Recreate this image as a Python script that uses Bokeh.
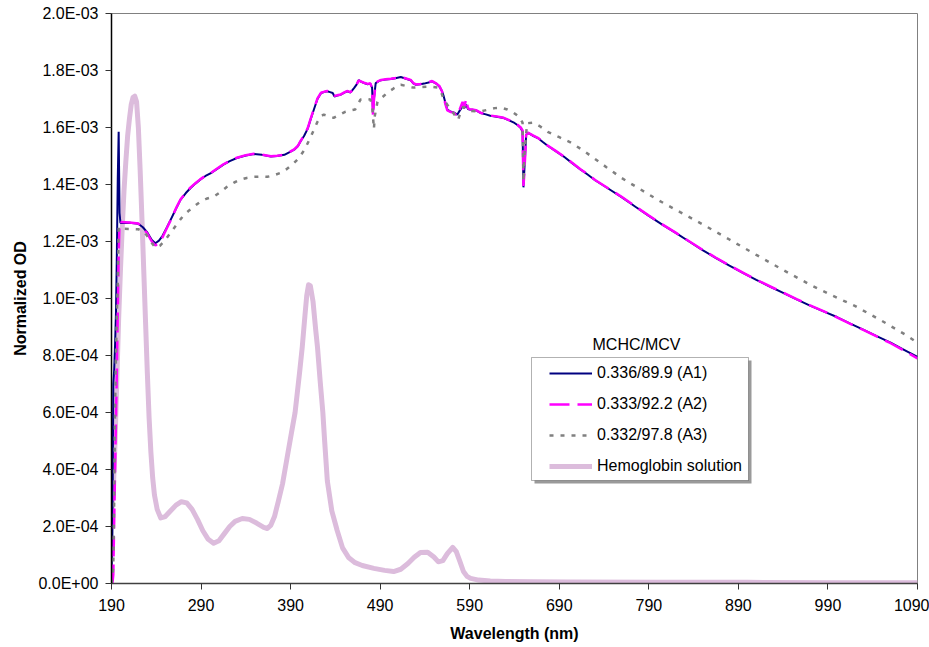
from bokeh.plotting import figure
from bokeh.models import (Range1d, FixedTicker, CustomJSTickFormatter, Legend,
                          LegendItem, Label, BoxAnnotation)
from bokeh.embed import file_html
from bokeh.resources import INLINE

# ---------------- data (OD values in units of 1e-3) ----------------
x_ticks = [190, 290, 390, 490, 590, 690, 790, 890, 990, 1090]
y_ticks = [0.0, 0.0002, 0.0004, 0.0006, 0.0008, 0.001, 0.0012, 0.0014, 0.0016, 0.0018, 0.002]

wl_a1 = [190, 191, 192, 193, 194, 195, 196, 197, 198, 199, 200, 210, 220, 225, 230, 235, 239, 243, 247,
         252, 256, 262, 267, 273, 278, 284, 289, 295, 301, 308, 315, 322, 330, 340, 349, 358, 368, 375,
         383, 390, 394, 398, 401, 405, 409, 412, 416, 420, 424, 428, 431, 434, 437, 439, 442, 446, 450,
         453, 457, 461, 464, 466, 469, 472, 476, 479, 481, 482, 483, 485, 488, 491, 496, 502, 507, 513,
         518, 524, 527, 530, 535, 539, 544, 548, 552, 556, 559, 561, 563, 565, 569, 572, 576, 579, 582,
         584, 586, 588, 590, 593, 597, 602, 608, 613, 620, 628, 634, 640, 644, 647, 649, 650, 651, 653,
         655, 660, 666, 672, 677, 686, 695, 704, 714, 722, 730, 745, 760, 775, 790, 805, 820, 835, 850,
         865, 880, 895, 910, 925, 940, 955, 970, 985, 1000, 1015, 1030, 1045, 1060, 1075, 1090]
od_a1 = [0.02, 0.18, 0.70, 0.75, 0.84, 0.95, 1.16, 1.42, 1.585, 1.30, 1.265, 1.266, 1.262, 1.250, 1.232,
         1.205, 1.194, 1.203, 1.220, 1.250, 1.276, 1.315, 1.346, 1.370, 1.387, 1.404, 1.417, 1.430, 1.440,
         1.455, 1.470, 1.482, 1.493, 1.502, 1.507, 1.504, 1.498, 1.500, 1.504, 1.515, 1.522, 1.534, 1.551,
         1.570, 1.595, 1.625, 1.663, 1.700, 1.721, 1.725, 1.727, 1.724, 1.721, 1.709, 1.712, 1.715, 1.722,
         1.727, 1.723, 1.739, 1.752, 1.766, 1.760, 1.756, 1.752, 1.754, 1.740, 1.651, 1.700, 1.756, 1.762,
         1.766, 1.768, 1.770, 1.773, 1.777, 1.772, 1.766, 1.755, 1.750, 1.752, 1.754, 1.758, 1.762, 1.755,
         1.745, 1.728, 1.709, 1.685, 1.663, 1.655, 1.653, 1.645, 1.660, 1.674, 1.668, 1.680, 1.665, 1.663,
         1.662, 1.660, 1.651, 1.646, 1.641, 1.638, 1.633, 1.625, 1.616, 1.607, 1.598, 1.585, 1.390, 1.450,
         1.575, 1.581, 1.572, 1.563, 1.548, 1.536, 1.517, 1.498, 1.476, 1.452, 1.434, 1.415, 1.385, 1.355,
         1.322, 1.290, 1.259, 1.230, 1.200, 1.170, 1.142, 1.115, 1.090, 1.065, 1.042, 1.020, 0.997, 0.975,
         0.955, 0.935, 0.912, 0.890, 0.867, 0.845, 0.820, 0.795]

wl_a2 = [190, 191, 192, 193, 194, 195, 196, 197, 198, 199, 200, 210, 220, 225, 230, 235, 239, 243, 247,
         252, 256, 262, 267, 273, 278, 284, 289, 295, 301, 308, 315, 322, 330, 340, 349, 358, 368, 375,
         383, 390, 394, 398, 401, 405, 409, 412, 416, 420, 424, 428, 431, 434, 437, 439, 442, 446, 450,
         453, 457, 461, 464, 466, 469, 472, 476, 479, 481, 482, 483, 485, 488, 491, 496, 502, 507, 513,
         518, 524, 527, 530, 535, 539, 544, 548, 552, 556, 559, 561, 563, 565, 569, 572, 576, 579, 582,
         584, 586, 588, 590, 593, 597, 602, 608, 613, 620, 628, 634, 640, 644, 647, 649, 650, 651, 653,
         655, 660, 666, 672, 677, 686, 695, 704, 714, 722, 730, 745, 760, 775, 790, 805, 820, 835, 850,
         865, 880, 895, 910, 925, 940, 955, 970, 985, 1000, 1015, 1030, 1045, 1060, 1075, 1090]
od_a2 = [0.0, 0.0, 0.03, 0.22, 0.40, 0.58, 0.75, 0.95, 1.15, 1.27, 1.268, 1.267, 1.263, 1.248, 1.228,
         1.200, 1.186, 1.195, 1.215, 1.248, 1.274, 1.316, 1.347, 1.372, 1.389, 1.405, 1.418, 1.431, 1.441,
         1.456, 1.471, 1.483, 1.494, 1.503, 1.508, 1.505, 1.499, 1.501, 1.505, 1.516, 1.523, 1.535, 1.552,
         1.572, 1.597, 1.627, 1.665, 1.702, 1.722, 1.726, 1.728, 1.725, 1.722, 1.711, 1.713, 1.716, 1.723,
         1.728, 1.724, 1.741, 1.753, 1.765, 1.761, 1.757, 1.753, 1.755, 1.738, 1.640, 1.695, 1.757, 1.763,
         1.767, 1.769, 1.771, 1.774, 1.778, 1.773, 1.767, 1.756, 1.751, 1.753, 1.755, 1.759, 1.763, 1.756,
         1.746, 1.727, 1.706, 1.680, 1.660, 1.654, 1.652, 1.640, 1.665, 1.690, 1.672, 1.700, 1.668, 1.664,
         1.663, 1.661, 1.652, 1.647, 1.642, 1.639, 1.634, 1.626, 1.617, 1.608, 1.600, 1.590, 1.395, 1.440,
         1.574, 1.582, 1.573, 1.564, 1.549, 1.537, 1.518, 1.499, 1.477, 1.453, 1.435, 1.416, 1.386, 1.356,
         1.323, 1.291, 1.260, 1.231, 1.201, 1.171, 1.143, 1.116, 1.091, 1.066, 1.043, 1.021, 0.998, 0.976,
         0.956, 0.934, 0.911, 0.889, 0.866, 0.843, 0.817, 0.790]

wl_a3 = [190, 191, 192, 193, 194, 195, 196, 197, 198, 200, 210, 220, 226, 231, 235, 239, 244, 250, 257,
         264, 270, 277, 283, 289, 296, 304, 311, 319, 327, 334, 341, 349, 357, 364, 371, 379, 386, 393,
         399, 404, 408, 412, 416, 420, 424, 427, 432, 438, 445, 451, 457, 462, 465, 468, 474, 479, 481,
         483, 484, 487, 492, 498, 505, 513, 520, 527, 535, 543, 549, 554, 558, 561, 565, 569, 573, 577,
         580, 583, 587, 592, 602, 610, 618, 625, 632, 639, 645, 649, 650, 651, 654, 661, 668, 677, 690,
         703, 716, 728, 743, 759, 780, 800, 825, 849, 880, 910, 940, 971, 995, 1020, 1050, 1077, 1090]
od_a3 = [0.0, 0.02, 0.06, 0.29, 0.62, 0.80, 0.95, 1.05, 1.25, 1.245, 1.244, 1.243, 1.235, 1.215, 1.195,
         1.178, 1.185, 1.205, 1.235, 1.265, 1.290, 1.310, 1.325, 1.339, 1.350, 1.357, 1.372, 1.392, 1.407,
         1.417, 1.423, 1.427, 1.428, 1.427, 1.432, 1.441, 1.455, 1.473, 1.492, 1.515, 1.538, 1.564, 1.592,
         1.620, 1.640, 1.645, 1.640, 1.634, 1.645, 1.655, 1.660, 1.663, 1.680, 1.698, 1.700, 1.698, 1.680,
         1.595, 1.640, 1.690, 1.705, 1.722, 1.737, 1.750, 1.745, 1.740, 1.742, 1.743, 1.742, 1.740, 1.725,
         1.698, 1.680, 1.663, 1.645, 1.627, 1.655, 1.673, 1.664, 1.658, 1.656, 1.662, 1.668, 1.670, 1.663,
         1.652, 1.638, 1.617, 1.410, 1.500, 1.615, 1.617, 1.605, 1.585, 1.566, 1.547, 1.521, 1.494, 1.460,
         1.424, 1.384, 1.346, 1.303, 1.262, 1.207, 1.153, 1.100, 1.047, 1.010, 0.974, 0.922, 0.872, 0.845]

wl_hb = [190, 192, 194, 196, 198, 200, 202, 204, 206, 208, 210, 212, 214, 216, 218, 220, 222, 224, 226,
         228, 230, 232, 234, 236, 238, 241, 245, 250, 256, 262, 268, 274, 280, 286, 292, 298, 304, 310,
         316, 322, 328, 336, 344, 352, 360, 364, 368, 372, 376, 381, 386, 391, 395, 400, 403, 406, 408,
         410, 412, 415, 418, 420, 423, 426, 428, 431, 436, 442, 448, 455, 462, 470, 483, 495, 505, 513,
         521, 528, 535, 543, 550, 555, 560, 565, 571, 575, 579, 583, 587, 591, 600, 613, 630, 660, 700,
         800, 900, 1000, 1090]
od_hb = [0.22, 0.33, 0.50, 0.72, 0.93, 1.10, 1.25, 1.38, 1.48, 1.57, 1.63, 1.68, 1.705, 1.71, 1.69, 1.60,
         1.45, 1.28, 1.10, 0.92, 0.74, 0.58, 0.46, 0.37, 0.31, 0.26, 0.23, 0.235, 0.255, 0.275, 0.287,
         0.283, 0.260, 0.225, 0.185, 0.155, 0.141, 0.150, 0.175, 0.200, 0.218, 0.228, 0.225, 0.212, 0.197,
         0.193, 0.205, 0.235, 0.285, 0.350, 0.440, 0.530, 0.600, 0.740, 0.830, 0.940, 1.010, 1.048, 1.045,
         0.990, 0.890, 0.830, 0.710, 0.600, 0.500, 0.360, 0.255, 0.186, 0.125, 0.090, 0.073, 0.063, 0.053,
         0.046, 0.042, 0.050, 0.070, 0.092, 0.109, 0.110, 0.093, 0.076, 0.080, 0.105, 0.127, 0.112, 0.078,
         0.042, 0.025, 0.018, 0.012, 0.009, 0.007, 0.006, 0.005, 0.004, 0.004, 0.003, 0.003]

labels = ["0.336/89.9 (A1)", "0.333/92.2 (A2)", "0.332/97.8 (A3)", "Hemoglobin solution"]
SCALE = 1e-3

FONT = "Liberation Sans"

p = figure(width=929, height=647, x_range=Range1d(190, 1090), y_range=Range1d(0, 0.002),
           output_backend="svg", toolbar_location=None,
           min_border_left=111, min_border_right=12, min_border_top=13, min_border_bottom=64)
p.xgrid.visible = False
p.ygrid.visible = False
p.outline_line_color = "#808080"
p.outline_line_width = 1
p.background_fill_color = "white"
p.border_fill_color = "white"

r_hb = p.line(wl_hb, [v * SCALE for v in od_hb], line_color="#DCBCDC", line_width=5, line_join="round")
r1 = p.line(wl_a1, [v * SCALE for v in od_a1], line_color="#000080", line_width=2)
r2 = p.line(wl_a2, [v * SCALE for v in od_a2], line_color="#FF00FF", line_width=2.5, line_dash="20 8")
r3 = p.line(wl_a3, [v * SCALE for v in od_a3], line_color="#808080", line_width=2.5, line_dash="4 7")

# axes
p.xaxis.ticker = FixedTicker(ticks=x_ticks)
p.yaxis.ticker = FixedTicker(ticks=y_ticks)
p.yaxis.formatter = CustomJSTickFormatter(code="""
const s = tick.toExponential(1).toUpperCase();
const m = s.match(/^(-?[\\d.]+)E([+-])(\\d+)$/);
if (!m) { return s; }
const e = m[3].length < 2 ? "0" + m[3] : m[3];
return m[1] + "E" + m[2] + e;
""")
for ax in (p.xaxis[0], p.yaxis[0]):
    ax.minor_tick_line_color = None
    ax.major_tick_in = 0
    ax.major_tick_out = 6
    ax.major_tick_line_color = "#333333"
    ax.major_label_text_font = FONT
    ax.major_label_text_font_size = "16px"
    ax.major_label_text_color = "black"
    ax.major_label_standoff = 7
    ax.axis_label_text_font = FONT
    ax.axis_label_text_font_size = "16px"
    ax.axis_label_text_font_style = "bold"
    ax.axis_label_text_color = "black"
p.xaxis.axis_label = "Wavelength (nm)"
p.yaxis.axis_label = "Normalized OD"
p.xaxis.major_label_standoff = 9
p.xaxis.axis_line_color = "#404040"
p.xaxis.axis_line_width = 1.5
p.yaxis.axis_line_color = "black"
p.yaxis.axis_line_width = 1.5
p.xaxis.axis_label_standoff = 11
p.yaxis.axis_label_standoff = 6

# legend (entries) + separate box + title outside the box
legend = Legend(items=[LegendItem(label=labels[0], renderers=[r1]),
                       LegendItem(label=labels[1], renderers=[r2]),
                       LegendItem(label=labels[2], renderers=[r3]),
                       LegendItem(label=labels[3], renderers=[r_hb])],
                location=(438, 107), orientation="vertical", padding=0, margin=0, spacing=11,
                label_height=20, glyph_height=20, glyph_width=43, label_standoff=5,
                border_line_alpha=0, background_fill_alpha=0,
                label_text_font=FONT, label_text_font_size="16px", label_text_color="black")
p.add_layout(legend)

shadow = BoxAnnotation(left=423, right=640, top=223, bottom=100,
                       left_units="screen", right_units="screen", top_units="screen", bottom_units="screen",
                       fill_color="#9a9a9a", fill_alpha=1.0, line_alpha=0, level="overlay")
box = BoxAnnotation(left=420, right=637, top=226, bottom=103,
                    left_units="screen", right_units="screen", top_units="screen", bottom_units="screen",
                    fill_color="white", fill_alpha=1.0, line_color="black", line_width=1, level="overlay")
p.add_layout(shadow)
p.add_layout(box)

title = Label(x=525, y=239, x_units="screen", y_units="screen", text="MCHC/MCV",
              text_align="center", text_baseline="middle", text_font=FONT,
              text_font_size="16px", text_color="black")
p.add_layout(title)

open("out.html", "w").write(file_html(p, INLINE))
